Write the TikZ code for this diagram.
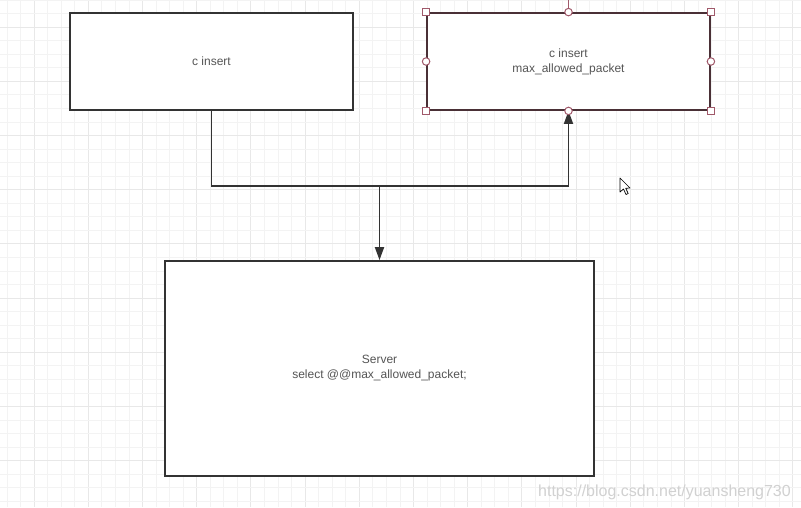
\documentclass[tikz,border=0pt]{standalone}
\usepackage{fontspec}
\setmainfont{Liberation Sans}
\usetikzlibrary{arrows.meta}
\definecolor{boxline}{HTML}{333333}
\definecolor{txt}{HTML}{555555}
\definecolor{selline}{HTML}{4A3036}
\definecolor{handle}{HTML}{A0596A}
\definecolor{gridminor}{HTML}{F3F3F3}
\definecolor{gridmajor}{HTML}{E8E8E8}
\tikzset{
  box/.style={draw=boxline, line width=1.8pt, fill=white, inner sep=0pt, font=\fontsize{12}{15}\selectfont, text=txt, align=center},
  conn/.style={draw=boxline, line width=1.8pt},
  tip/.style={-{Triangle[length=13pt,width=9pt]}},
  sqh/.style={draw=handle, fill=white, line width=1pt, minimum size=7pt, inner sep=0pt},
  cih/.style={draw=handle, fill=white, line width=1pt, circle, minimum size=7.5pt, inner sep=0pt},
}
\begin{document}
\begin{tikzpicture}[x=1pt,y=-1pt]
\useasboundingbox (0,0) rectangle (801,507);
\fill[white] (0,0) rectangle (801,507);
% grid
\foreach \k in {0,...,58}{
  \pgfmathsetmacro{\xx}{7+\k*13.55}
  \pgfmathtruncatemacro{\m}{mod(\k,4)}
  \ifnum\m=2 \draw[gridmajor,line width=0.9pt] (\xx,0) -- (\xx,507);
  \else \draw[gridminor,line width=0.9pt] (\xx,0) -- (\xx,507); \fi
}
\foreach \k in {0,...,37}{
  \pgfmathsetmacro{\yy}{\k*13.55}
  \pgfmathtruncatemacro{\m}{mod(\k,4)}
  \ifnum\m=2 \draw[gridmajor,line width=0.9pt] (0,\yy) -- (801,\yy);
  \else \draw[gridminor,line width=0.9pt] (0,\yy) -- (801,\yy); \fi
}
% boxes
\node[box, minimum width=283pt, minimum height=97pt] (a) at (211.5,61.5) {c insert};
\node[box, draw=selline, minimum width=283pt, minimum height=97pt] (b) at (568.5,61.5) {c insert\\max\_allowed\_packet};
\node[box, minimum width=429pt, minimum height=215pt] (s) at (379.5,368.5) {Server\\select @@max\_allowed\_packet;};
% connectors
\coordinate (j) at (379.5,186);
\draw[conn] (a.south) |- (j);
\draw[conn, tip] (j) -| (b.south);
\draw[conn, tip] (j) -- (s.north);
% selection handles
\draw[handle, line width=1pt] (b.north) -- (568.5,0);
\node[sqh] (h1) at (b.north west) {};
\node[sqh] (h2) at (b.north east) {};
\node[sqh] (h3) at (b.south west) {};
\node[sqh] (h4) at (b.south east) {};
\node[cih] (h5) at (b.north) {};
\node[cih] (h6) at (b.south) {};
\node[cih] (h7) at (b.west) {};
\node[cih] (h8) at (b.east) {};
% cursor
\draw[black, fill=white, line width=0.7pt, line join=round] (620,178) -- (620,192) -- (623.5,189) -- (626,194.5) -- (628.2,193.5) -- (625.7,188.3) -- (630,188) -- cycle;
% watermark
\node[text=black!18, font=\fontsize{16}{18}\selectfont, anchor=east, inner sep=0pt] (w) at (791,492) {https://blog.csdn.net/yuansheng730};
\end{tikzpicture}
\end{document}
